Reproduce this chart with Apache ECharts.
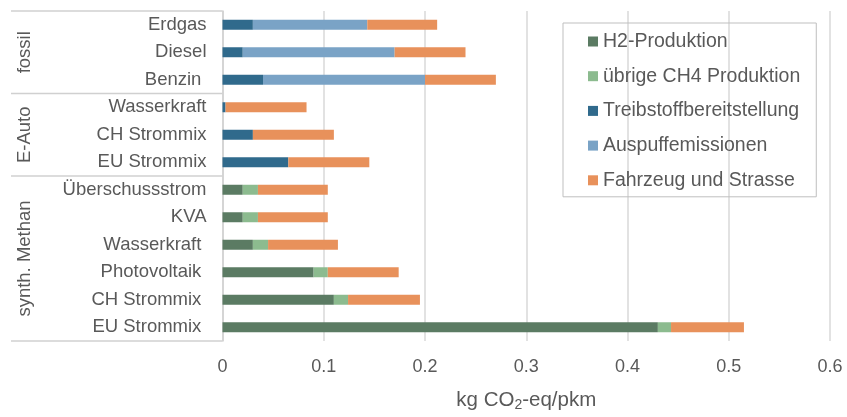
<!DOCTYPE html>
<html><head><meta charset="utf-8">
<script src="https://cdn.jsdelivr.net/npm/echarts@6/dist/echarts.min.js"></script>
<style>html,body{margin:0;padding:0;background:#fff}#c{width:847px;height:417px}</style>
</head><body><div id="c"></div>
<script>
const categories = ['Erdgas','Diesel','Benzin ','Wasserkraft','CH Strommix','EU Strommix','Überschussstrom','KVA','Wasserkraft ','Photovoltaik ','CH Strommix ','EU Strommix '];
const groups = [{name:'fossil', from:0, to:2},{name:'E-Auto', from:3, to:5},{name:'synth. Methan', from:6, to:11}];
const seriesNames = ['H2-Produktion','übrige CH4 Produktion','Treibstoffbereitstellung','Auspuffemissionen','Fahrzeug und Strasse'];
const h2 =        [null,null,null, null,null,null, 0.02,0.02,0.03,0.09,0.11,0.43];
const ch4 =       [null,null,null, null,null,null, 0.015,0.015,0.015,0.014,0.014,0.013];
const treib =     [0.03,0.02,0.04, 0.003,0.03,0.065, null,null,null,null,null,null];
const auspuff =   [0.113,0.15,0.16, null,null,null, null,null,null,null,null,null];
const fahrzeug =  [0.069,0.07,0.07, 0.08,0.08,0.08, 0.069,0.069,0.069,0.07,0.071,0.072];
const colors = ['#5b7b63','#8cbb8f','#306a8c','#7aa3c6','#e8915b'];
const xTicks = {min:0, max:0.6, interval:0.1};

const FONT = '"Liberation Sans", Arial, sans-serif';
const TXT = '#595959';
const chart = echarts.init(document.getElementById('c'), null, {renderer:'canvas'});
const dataSets = [h2, ch4, treib, auspuff, fahrzeug];
const option = {
  animation:false,
  textStyle:{fontFamily:FONT},
  grid:{left:222.5, right:17, top:11, bottom:68},
  legend:{
    orient:'vertical', left:563, top:23,
    padding:[8,16,6,25],
    borderColor:'#bfbfbf', borderWidth:1,
    itemWidth:10, itemHeight:10, itemGap:13.7,
    icon:'rect',
    textStyle:{fontSize:19.5, color:TXT, fontFamily:FONT, lineHeight:21},
    data: seriesNames
  },
  xAxis:{
    type:'value', min:xTicks.min, max:xTicks.max, interval:xTicks.interval,
    axisLine:{show:false}, axisTick:{show:false},
    splitLine:{lineStyle:{color:'#d9d9d9', width:1.5}},
    axisLabel:{fontSize:18, color:TXT, margin:17, fontFamily:FONT},
    name:'kg CO{sub|2}-eq/pkm', nameLocation:'middle', nameGap:48,
    nameTextStyle:{fontSize:20.5, color:TXT, fontFamily:FONT,
      rich:{sub:{fontSize:14, verticalAlign:'bottom', color:TXT, padding:[9,0,0,0], fontFamily:FONT}}}
  },
  yAxis:{
    type:'category', inverse:true, data:categories,
    axisLine:{show:true, lineStyle:{color:'#d0d0d0', width:1.5}},
    axisTick:{show:false},
    axisLabel:{fontSize:18.5, color:TXT, margin:16, fontFamily:FONT}
  },
  series: seriesNames.map((n,i)=>({
    name:n, type:'bar', stack:'total', barWidth:10,
    itemStyle:{color:colors[i]}, data:dataSets[i]
  }))
};
chart.setOption(option);

// group labels and separators from the category scale
const py = i => chart.convertToPixel({yAxisIndex:0}, i);
const band = py(1) - py(0);
const gfx = [];
const lineX0 = 11, lineX1 = 222.5;
const ys = [py(0) - band/2];
groups.forEach(g => { ys.push(py(g.to) + band/2); });
ys.forEach(y => gfx.push({type:'line', shape:{x1:lineX0, y1:y, x2:lineX1, y2:y}, style:{stroke:'#d0d0d0', lineWidth:1.5}}));
groups.forEach(g => {
  const cy = (py(g.from) + py(g.to)) / 2;
  gfx.push({type:'text', x:25, y:cy, rotation:Math.PI/2,
    style:{text:g.name, fontSize:18.5, fontFamily:FONT, fill:TXT, align:'center', verticalAlign:'middle'}});
});
chart.setOption({graphic:gfx});
</script></body></html>
